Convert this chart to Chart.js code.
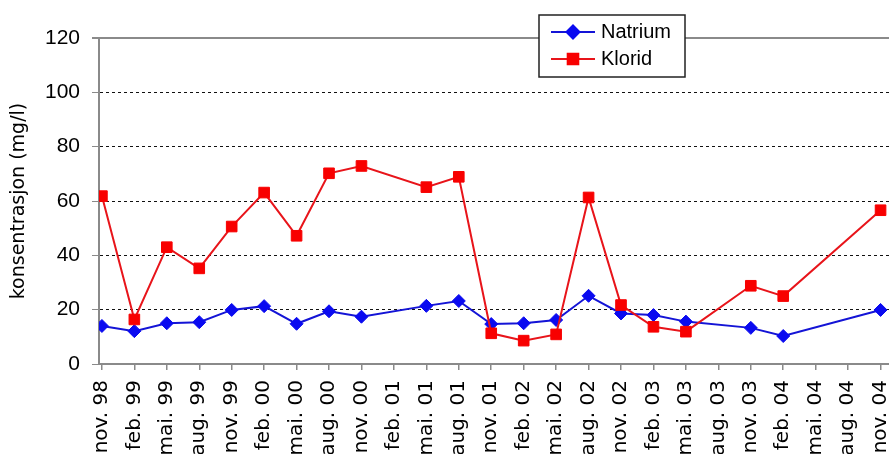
<!DOCTYPE html>
<html>
<head>
<meta charset="utf-8">
<script src="https://cdn.jsdelivr.net/npm/chart.js@4.4.1/dist/chart.umd.min.js"></script>
<style>
  html, body { margin: 0; padding: 0; background: #fff; overflow: hidden; }
  canvas { display: block; }
</style>
</head>
<body>
<canvas id="c" width="889" height="454"></canvas>
<script>
// Quarterly sampling dates
const categories = ['nov. 98','feb. 99','mai. 99','aug. 99','nov. 99','feb. 00','mai. 00','aug. 00','nov. 00','feb. 01','mai. 01','aug. 01','nov. 01','feb. 02','mai. 02','aug. 02','nov. 02','feb. 03','mai. 03','aug. 03','nov. 03','feb. 04','mai. 04','aug. 04','nov. 04'];
// Concentrations in mg/l (null = no sample)
const natrium = [14.0, 12.1, 15.0, 15.4, 19.9, 21.3, 14.8, 19.4, 17.4, null, 21.4, 23.2, 14.7, 15.0, 16.2, 25.1, 18.6, 18.0, 15.6, null, 13.3, 10.3, null, null, 19.9];
const klorid  = [61.8, 16.4, 43.0, 35.2, 50.6, 63.1, 47.2, 70.2, 72.9, null, 65.1, 68.9, 11.3, 8.6, 10.9, 61.3, 21.7, 13.7, 11.9, null, 28.8, 25.0, null, null, 56.6];
const yTicks = [0, 20, 40, 60, 80, 100, 120];

const FONT = '"Liberation Sans", Arial, Helvetica, sans-serif';
const WIDE_FONT = '"DejaVu Sans", Verdana, sans-serif';
Chart.defaults.font.family = FONT;
Chart.defaults.color = '#000';

const AXIS_GREY = '#8a8a8a';

// Grey top border of the plot area plus the boxed legend
const framePlugin = {
  id: 'frame',
  beforeDatasetsDraw(chart) {
    const { ctx, chartArea } = chart;
    ctx.save();
    ctx.strokeStyle = AXIS_GREY;
    ctx.lineWidth = 2;
    ctx.beginPath();
    ctx.moveTo(chartArea.left - 7, chartArea.top);
    ctx.lineTo(chart.width, chartArea.top);
    ctx.stroke();
    ctx.restore();
  },
  afterDraw(chart) {
    const { ctx } = chart;
    const box = { x: 539, y: 15, w: 146, h: 62 };
    ctx.save();
    ctx.fillStyle = '#fff';
    ctx.fillRect(box.x, box.y, box.w, box.h);
    ctx.strokeStyle = '#222';
    ctx.lineWidth = 1.5;
    ctx.strokeRect(box.x, box.y, box.w, box.h);
    chart.data.datasets.forEach((ds, i) => {
      const cy = box.y + 17 + i * 27;
      const x0 = box.x + 12, x1 = box.x + 56;
      ctx.strokeStyle = ds.borderColor;
      ctx.lineWidth = ds.borderWidth;
      ctx.beginPath();
      ctx.moveTo(x0, cy);
      ctx.lineTo(x1, cy);
      ctx.stroke();
      ctx.fillStyle = ds.pointBackgroundColor;
      ctx.strokeStyle = ds.pointBorderColor;
      Chart.helpers.drawPoint(ctx, {
        pointStyle: ds.pointStyle, radius: ds.pointRadius, rotation: 0, borderWidth: 1
      }, (x0 + x1) / 2, cy);
      ctx.fillStyle = '#000';
      ctx.font = '20px ' + FONT;
      ctx.textBaseline = 'middle';
      ctx.textAlign = 'left';
      ctx.fillText(ds.label, x1 + 6, cy);
    });
    ctx.restore();
  }
};

const toPoints = arr => arr.map((y, i) => ({ x: i, y }));

new Chart(document.getElementById('c'), {
  type: 'line',
  data: {
    datasets: [
      {
        label: 'Natrium',
        data: toPoints(natrium),
        borderColor: '#1414d6',
        borderWidth: 2,
        pointStyle: 'rectRot',
        pointRadius: 6.5,
        pointBackgroundColor: '#0a0af0',
        pointBorderColor: '#0a0af0',
        pointBorderWidth: 1,
        spanGaps: true,
        tension: 0,
        order: 1
      },
      {
        label: 'Klorid',
        data: toPoints(klorid),
        borderColor: '#e8141a',
        borderWidth: 2,
        pointStyle: 'rect',
        pointRadius: 7.5,
        pointBackgroundColor: '#f80000',
        pointBorderColor: '#f80000',
        pointBorderWidth: 1,
        spanGaps: true,
        tension: 0,
        order: 0
      }
    ]
  },
  options: {
    responsive: false,
    animation: false,
    layout: { autoPadding: false, padding: { top: 38, left: 0, right: 0, bottom: 0 } },
    plugins: { legend: { display: false }, tooltip: { enabled: false } },
    scales: {
      x: {
        type: 'linear',
        min: -0.09,
        max: 24.26,
        afterBuildTicks(s) { s.ticks = categories.map((_, i) => ({ value: i })); },
        afterFit(s) { s.height = 90; s.paddingLeft = 0; s.paddingRight = 0; },
        grid: {
          drawOnChartArea: false,
          drawTicks: true,
          tickLength: 6,
          color: AXIS_GREY,
          tickColor: AXIS_GREY,
          lineWidth: 1.5
        },
        border: { display: true, color: AXIS_GREY, width: 2 },
        ticks: {
          autoSkip: false,
          minRotation: 90,
          maxRotation: 90,
          padding: 10,
          font: { family: WIDE_FONT, size: 20 },
          color: '#000',
          callback: v => categories[v]
        }
      },
      y: {
        min: 0,
        max: 120,
        afterBuildTicks(s) { s.ticks = yTicks.map(v => ({ value: v })); },
        afterFit(s) { s.width = 99; s.paddingTop = 0; s.paddingBottom = 0; },
        grid: {
          drawTicks: true,
          tickLength: 7,
          lineWidth: 1,
          color: c => (c.tick && (c.tick.value === 0 || c.tick.value === 120)) ? 'rgba(0,0,0,0)' : '#111',
          tickColor: AXIS_GREY
        },
        border: { display: true, color: AXIS_GREY, width: 2, dash: [3, 3] },
        ticks: {
          padding: 12,
          font: { size: 21 },
          color: '#000'
        },
        title: {
          display: true,
          text: 'konsentrasjon (mg/l)',
          font: { family: WIDE_FONT, size: 19 },
          color: '#000',
          padding: { top: 8, bottom: 0 }
        }
      }
    }
  },
  plugins: [framePlugin]
});
</script>
</body>
</html>
